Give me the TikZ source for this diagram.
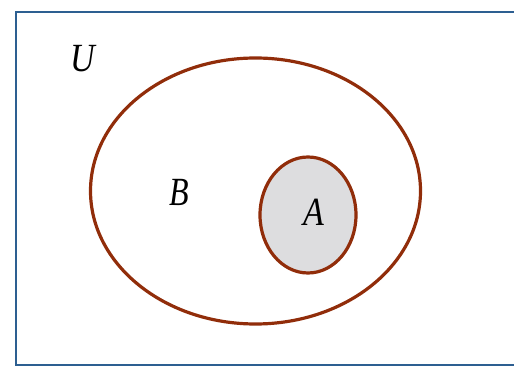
\documentclass[tikz,border=0pt]{standalone}
\usepackage{fontspec}
\newfontfamily\lblfont{Liberation Serif}
\usetikzlibrary{shapes.geometric}
\definecolor{framecol}{RGB}{45,95,145}
\definecolor{setcol}{RGB}{145,45,10}
\definecolor{fillcol}{RGB}{221,221,223}
\tikzset{
  setline/.style={draw=setcol, line width=3.2pt},
  lbl/.style={font=\lblfont\fontsize{40}{46}\selectfont\itshape, inner sep=0pt},
}
\begin{document}
\begin{tikzpicture}[x=1pt,y=-1pt]
\useasboundingbox (0,0) rectangle (514,366);
\clip (0,0) rectangle (514,366);
\draw[framecol, line width=2pt] (16,12) rectangle (530,365);
\node[setline, ellipse, minimum width=330pt, minimum height=266pt, inner sep=0pt] (B) at (255.5,191) {};
\node[setline, fill=fillcol, ellipse, minimum width=96pt, minimum height=116pt, inner sep=0pt] (A) at (308,215) {};
\node[lbl] (lU) at (83,59) {\scalebox{0.85}[1]{U}};
\node[lbl] (lB) at (179,192) {\scalebox{0.8}[1]{B}};
\node[lbl] (lA) at (314,212) {\scalebox{0.85}[1]{A}};
\end{tikzpicture}
\end{document}
